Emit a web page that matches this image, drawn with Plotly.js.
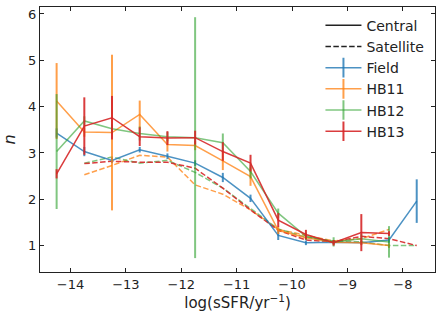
<!DOCTYPE html>
<html>
<head>
<meta charset="utf-8">
<script src="https://cdn.plot.ly/plotly-3.0.1.min.js"></script>
<style>
  body { margin: 0; background: #fff; }
  #myPlot { width: 441px; height: 321px; }
</style>
</head>
<body>
<div id="myPlot"></div>
<script>
// bin centres, log(sSFR/yr^-1)
const xBins = [-14.25, -13.75, -13.25, -12.75, -12.25, -11.75, -11.25, -10.75, -10.25, -9.75, -9.25, -8.75, -8.25, -7.75];

// central galaxies (solid)
const fieldCen = [3.43, 3.03, 2.84, 3.07, 2.93, 2.78, 2.47, 2.02, 1.22, 1.06, 1.07, 1.06, 1.12, 1.96];
const fieldErr = [0.1, 0.1, 0.06, 0.06, 0.06, 0.06, 0.1, 0.08, 0.1, 0.05, 0.04, 0.04, 0.06, 0.47];
const hb11Cen = [4.12, 3.45, 3.44, 3.83, 3.18, 3.16, 2.83, 2.49, 1.33, 1.17, 1.07, 1.06, 1.0, null];
const hb11Err = [0.82, 0.1, 1.68, 0.3, 0.15, 0.1, 0.2, 0.2, 0.08, 0.05, 0.05, 0.05, 0.05, 0];
const hb12Cen = [3.03, 3.69, 3.52, 3.42, 3.35, 3.33, 3.22, 2.6, 1.7, 1.2, 1.08, 1.15, 1.08, null];
const hb12Err = [1.24, 0.1, 0.1, 0.15, 0.1, 2.6, 0.2, 0.15, 0.1, 0.08, 0.1, 0.1, 0.34, 0];
const hb13Cen = [2.55, 3.58, 3.76, 3.35, 3.32, 3.33, 3.03, 2.78, 1.55, 1.24, 1.06, 1.28, 1.26, null];
const hb13Err = [0.1, 0.62, 0.47, 0.2, 0.15, 0.15, 0.2, 0.18, 0.15, 0.1, 0.06, 0.4, 0.05, 0];

// satellite galaxies (dashed)
const hb11Sat = [null, 2.53, 2.73, 2.95, 2.91, 2.31, 2.11, 1.77, 1.35, 1.22, 1.1, 1.15, 1.35, null];
const hb12Sat = [null, 2.78, 2.91, 2.78, 2.84, 2.58, 2.24, 1.8, 1.36, 1.18, 1.1, 1.08, 1.0, 1.0];
const hb13Sat = [null, 2.77, 2.82, 2.8, 2.8, 2.67, 2.24, 1.77, 1.33, 1.12, 1.08, 1.2, 1.15, 1.0];

const names = ["Field", "HB11", "HB12", "HB13"];
const colors = ["rgba(31,119,180,0.8)", "rgba(255,127,14,0.75)", "rgba(44,160,44,0.6)", "rgba(214,39,40,0.9)"];
const cens = [fieldCen, hb11Cen, hb12Cen, hb13Cen];
const errs = [fieldErr, hb11Err, hb12Err, hb13Err];
const sats = [null, hb11Sat, hb12Sat, hb13Sat];
const dashStyle = "5.5px,2.4px";

const data = [];

// Satellite lines
for (let i = 0; i < names.length; i++) {
  if (!sats[i]) continue;
  data.push({
    x: xBins, y: sats[i], mode: "lines", showlegend: false,
    line: {color: colors[i], width: 1.5, dash: dashStyle}
  });
}

// Central lines with error bars
for (let i = 0; i < names.length; i++) {
  data.push({
    x: xBins, y: cens[i], mode: "lines", showlegend: false,
    line: {color: colors[i], width: 1.5},
    error_y: {type: "data", array: errs[i], visible: true, width: 0, thickness: 2, color: colors[i]}
  });
}

// legend entries
data.push({x: [null], y: [null], mode: "lines", name: "Central", line: {color: "#222", width: 1.5}});
data.push({x: [null], y: [null], mode: "lines", name: "Satellite", line: {color: "#222", width: 1.5, dash: dashStyle}});
for (let i = 0; i < names.length; i++) {
  data.push({
    x: [null], y: [null], mode: "lines+markers", name: names[i],
    line: {color: colors[i], width: 1.5},
    marker: {symbol: "line-ns-open", size: 14, color: colors[i], line: {color: colors[i], width: 2}}
  });
}

const axisStyle = {
  showline: true, mirror: "ticks", linecolor: "#222", linewidth: 1,
  ticks: "inside", ticklen: 4, tickcolor: "#222", tickwidth: 1,
  showgrid: false, zeroline: false,
  tickfont: {family: "DejaVu Sans", size: 13, color: "#222"}
};

const layout = {
  width: 441, height: 321,
  margin: {l: 40, r: 6, t: 7, b: 49},
  paper_bgcolor: "#fff", plot_bgcolor: "#fff",
  font: {family: "DejaVu Sans", color: "#222"},
  xaxis: Object.assign({}, axisStyle, {
    range: [-14.55, -7.42], dtick: 1,
    title: {text: "log(sSFR/yr<sup>−1</sup>)", font: {size: 15}, standoff: 6}
  }),
  yaxis: Object.assign({}, axisStyle, {
    range: [0.43, 6.15], dtick: 1,
    title: {text: "<i>n</i>", font: {size: 16}, standoff: 8}
  }),
  legend: {
    x: 0.71, y: 0.99, xanchor: "left", yanchor: "top",
    bgcolor: "rgba(0,0,0,0)", borderwidth: 0,
    itemwidth: 36,
    font: {family: "DejaVu Sans", size: 14, color: "#222"}
  }
};

Plotly.newPlot("myPlot", data, layout, {displayModeBar: false});
</script>
</body>
</html>
